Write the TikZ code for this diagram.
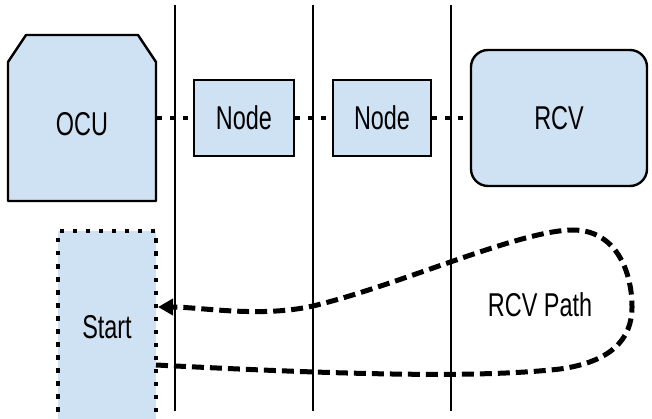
\documentclass[tikz,border=0pt]{standalone}
\usepackage{fontspec}
\setmainfont{Liberation Sans}[FakeStretch=0.71]
\usetikzlibrary{arrows.meta}
\definecolor{boxblue}{HTML}{CFE2F3}
\tikzset{
  lbl/.style={font=\fontsize{33}{36}\selectfont, inner sep=0pt},
  boxstyle/.style={draw=black, line width=2.4pt, fill=boxblue, inner sep=0pt},
  divider/.style={draw=black, line width=1.8pt},
  dotline/.style={draw=black, line width=4.6pt, dash pattern=on 4.5pt off 8.5pt},
  dashpath/.style={draw=black, line width=5pt, dash pattern=on 12pt off 6pt},
}
\begin{document}
\begin{tikzpicture}[x=1pt,y=-1pt]
\useasboundingbox (0,0) rectangle (652,419);
\clip (0,0) rectangle (652,419);
% boxes
\draw[boxstyle, line join=round] (8,62) -- (26,35) -- (138,35) -- (156,62) -- (156,201) -- (8,201) -- cycle;
\node[minimum width=148pt, minimum height=166pt, inner sep=0pt, outer sep=1.2pt] (ocu) at (82,118) {};
\node[lbl] (ocutext) at (82,124) {OCU};
\node[boxstyle, minimum width=100pt, minimum height=76pt] (n1) at (244,118) {};
\node[lbl] (n1text) at (n1.center) {Node};
\node[boxstyle, minimum width=98pt, minimum height=76pt] (n2) at (382,118) {};
\node[lbl] (n2text) at (n2.center) {Node};
\node[boxstyle, rounded corners=17pt, minimum width=176pt, minimum height=136pt] (rcv) at (559,118) {};
\node[lbl] (rcvtext) at (rcv.center) {RCV};
\node[fill=boxblue, draw=black, line width=4.6pt, dash pattern=on 4.5pt off 8.5pt,
      minimum width=98pt, minimum height=200pt, inner sep=0pt] (start) at (107,331) {};
\node[lbl] (starttext) at (107,327) {Start};
\node[lbl] (pathtext) at (540,305) {RCV Path};
% dotted connectors
\draw[dotline] (ocu.east) -- (n1.west);
\draw[dotline] (n1.east) -- (n2.west);
\draw[dotline] (n2.east) -- (rcv.west);
% dashed path
\coordinate (pstart) at (156,365);
\coordinate (pend) at (158,307);
\draw[dashpath, -{Triangle[length=15pt,width=16pt]}]
  (pstart) .. controls (350,375) and (480,378) .. (560,369)
  .. controls (610,362) and (632,340) .. (632,307)
  .. controls (632,270) and (615,230) .. (573,230)
  .. controls (520,230) and (400,285) .. (313,306)
  .. controls (260,318) and (200,307) .. (pend);
% dividers
\coordinate (d1t) at (175,5); \coordinate (d1b) at (175,411);
\coordinate (d2t) at (313,5); \coordinate (d2b) at (313,411);
\coordinate (d3t) at (451,5); \coordinate (d3b) at (451,411);
\draw[divider] (d1t) -- (d1b);
\draw[divider] (d2t) -- (d2b);
\draw[divider] (d3t) -- (d3b);
\end{tikzpicture}
\end{document}
